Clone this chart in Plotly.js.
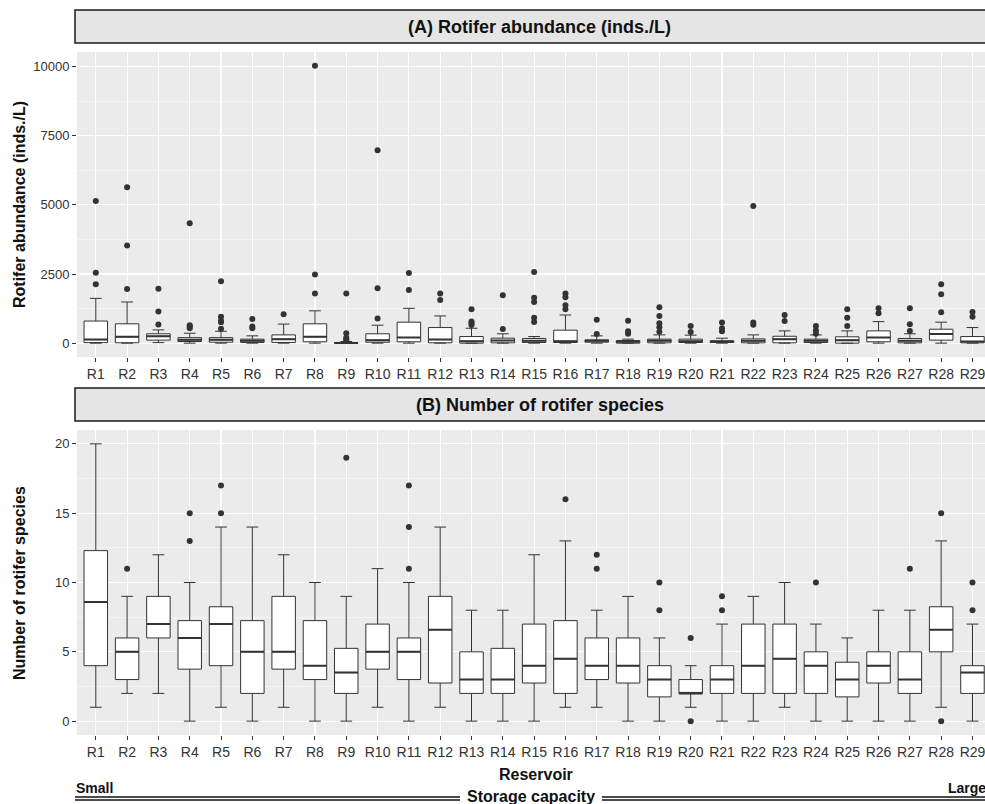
<!DOCTYPE html>
<html>
<head>
<meta charset="utf-8">
<script src="https://cdn.plot.ly/plotly-3.0.1.min.js"></script>
<style>html,body{margin:0;padding:0;overflow:hidden;background:#fff}#chart{width:985px;height:804px}</style>
</head>
<body>
<div id="chart"></div>
<script>
// ---- data ----
const reservoirs = ["R1","R2","R3","R4","R5","R6","R7","R8","R9","R10","R11","R12","R13","R14","R15","R16","R17","R18","R19","R20","R21","R22","R23","R24","R25","R26","R27","R28","R29"];

// (A) Rotifer abundance (inds./L)
const abLower  = [0,0,20,0,0,0,0,0,0,0,0,0,0,0,0,0,0,0,0,0,0,0,0,0,0,0,0,0,0];
const abQ1     = [20,15,110,60,35,25,25,50,0,35,50,12,0,12,25,25,35,0,12,25,25,12,12,25,0,50,12,110,12];
const abMedian = [130,230,250,120,120,85,145,230,5,110,205,130,70,95,85,70,85,50,85,70,60,85,145,85,110,205,85,335,60];
const abQ3     = [800,700,340,200,200,145,300,700,25,340,760,565,240,180,170,470,120,95,145,145,85,155,250,145,230,445,170,505,240];
const abUpper  = [1620,1490,480,360,430,265,690,1170,60,650,1260,985,540,340,240,1020,265,145,300,290,180,300,445,300,445,780,340,760,565];
const abOutliers = [
  [2130,2550,5140],[1960,3530,5640],[675,1145,1964],[540,600,650,4340],[520,760,810,960,2240],
  [540,600,870],[1050],[1800,2480,10030],[100,150,200,360,1800],[890,1990,6980],
  [1925,2540],[1565,1800],[660,720,780,1230],[515,1735],[765,915,1490,1640,2575],
  [1230,1370,1660,1800],[335,845],[340,430,810],[410,580,720,985,1300],[405,625],
  [435,540,745],[665,745,4965],[800,1015],[340,460,625],[620,920,1230],
  [1085,1265],[440,685,1260],[1115,1765,2130],[960,1125]
];

// (B) Number of rotifer species
const spLower  = [1,2,2,0,1,0,1,0,0,1,0,1,0,0,0,1,1,0,0,1,0,0,1,0,0,0,0,1,0];
const spQ1     = [4,3,6,3.75,4,2,3.75,3,2,3.75,3,2.75,2,2,2.75,2,3,2.75,1.75,2,2,2,2,2,1.75,2.75,2,5,2];
const spMedian = [8.6,5,7,6,7,5,5,4,3.5,5,5,6.6,3,3,4,4.5,4,4,3,2,3,4,4.5,4,3,4,3,6.6,3.5];
const spQ3     = [12.3,6,9,7.25,8.25,7.25,9,7.25,5.25,7,6,9,5,5.25,7,7.25,6,6,4,3,4,7,7,5,4.25,5,5,8.25,4];
const spUpper  = [20,9,12,10,14,14,12,10,9,11,10,14,8,8,12,13,8,9,6,4,7,9,10,7,6,8,8,13,7];
const spOutliers = [
  [],[11],[],[13,15],[15,17],[],[],[],[19],[],
  [11,14,17],[],[],[],[],[16],[11,12],[],[8,10],[0,6],
  [8,9],[],[],[10],[],[],[11],[0,15],[8,10]
];

const panelTitles = ["(A) Rotifer abundance (inds./L)", "(B) Number of rotifer species"];
const yTitles = ["Rotifer abundance (inds./L)", "Number of rotifer species"];
const xTitle = "Reservoir";
const bottomLabels = {left: "Small", middle: "Storage capacity", right: "Large"};

// ---- geometry helpers (layout only) ----
const W = 985, H = 804;
const M = {l: 77, r: 0, t: 52, b: 69};
const PW = W - M.l - M.r, PH = H - M.t - M.b;
const px = x => (x - M.l) / PW;
const py = y => 1 - (y - M.t) / PH;

const FONT = "Liberation Sans, Arial, Helvetica, sans-serif";
const boxLine = "#333333";

function flattenOut(outs) {
  const xs = [], ys = [];
  outs.forEach((arr, i) => arr.forEach(v => { xs.push(reservoirs[i]); ys.push(v); }));
  return {xs, ys};
}

function panelTraces(lower, q1, med, q3, upper, outs, xa, ya) {
  const o = flattenOut(outs);
  return [
    {type: "box", x: reservoirs, q1: q1, median: med, q3: q3, lowerfence: lower, upperfence: upper,
     xaxis: xa, yaxis: ya, width: 0.75, fillcolor: "#ffffff", line: {color: boxLine, width: 1},
     boxpoints: false, hoverinfo: "skip", showlegend: false},
    {type: "box", x: reservoirs, q1: med, median: med, q3: med, lowerfence: med, upperfence: med,
     xaxis: xa, yaxis: ya, width: 0.75, fillcolor: "rgba(0,0,0,0)", line: {color: boxLine, width: 2},
     boxpoints: false, hoverinfo: "skip", showlegend: false},
    {type: "scatter", mode: "markers", x: o.xs, y: o.ys, xaxis: xa, yaxis: ya,
     marker: {color: "#333333", size: 6}, hoverinfo: "skip", showlegend: false}
  ];
}

const data = [
  ...panelTraces(abLower, abQ1, abMedian, abQ3, abUpper, abOutliers, "x", "y"),
  ...panelTraces(spLower, spQ1, spMedian, spQ3, spUpper, spOutliers, "x2", "y2")
];

const xBase = {
  type: "category", categoryorder: "array", categoryarray: reservoirs,
  range: [-0.6, 28.4], showgrid: true, gridcolor: "#ffffff", gridwidth: 1.1,
  ticks: "outside", ticklen: 4, tickwidth: 1, tickcolor: "#333333",
  tickfont: {family: FONT, size: 14, color: "#333333"}, zeroline: false, showline: false,
  fixedrange: true
};
const yBase = {
  showgrid: true, gridcolor: "#ffffff", gridwidth: 1.1, zeroline: false, showline: false,
  ticks: "outside", ticklen: 4, tickwidth: 1, tickcolor: "#333333", tickformat: "d",
  tickfont: {family: FONT, size: 13, color: "#333333"}, fixedrange: true
};

const domA = [py(357), py(52)];
const domB = [py(735), py(430)];

const line = (x0, x1, y) => ({type: "line", xref: "paper", yref: "paper", x0: px(x0), x1: px(x1),
  y0: py(y), y1: py(y), line: {color: "#111", width: 1.6}});

const layout = {
  width: W, height: H,
  margin: M,
  paper_bgcolor: "#ffffff", plot_bgcolor: "#ebebeb",
  showlegend: false, boxmode: "overlay",
  xaxis:  Object.assign({}, xBase, {domain: [0, 1], anchor: "y"}),
  xaxis2: Object.assign({}, xBase, {domain: [0, 1], anchor: "y2"}),
  yaxis:  Object.assign({}, yBase, {domain: domA, anchor: "x", range: [-500, 10530], tick0: 0, dtick: 2500,
           minor: {showgrid: true, tick0: 0, dtick: 1250, gridcolor: "#ffffff", gridwidth: 0.5}}),
  yaxis2: Object.assign({}, yBase, {domain: domB, anchor: "x2", range: [-1, 21], tick0: 0, dtick: 5,
           minor: {showgrid: true, tick0: 0, dtick: 2.5, gridcolor: "#ffffff", gridwidth: 0.5}}),
  shapes: [
    {type: "rect", xref: "paper", yref: "paper", x0: px(75), x1: px(1000), y0: py(43), y1: py(10),
     fillcolor: "#e5e5e5", line: {color: "#1a1a1a", width: 1.5}},
    {type: "rect", xref: "paper", yref: "paper", x0: px(75), x1: px(1000), y0: py(421), y1: py(388),
     fillcolor: "#e5e5e5", line: {color: "#1a1a1a", width: 1.5}},
    line(75, 460, 797), line(75, 460, 800), line(602, 990, 797), line(602, 990, 800)
  ],
  annotations: [
    {text: "<b>" + panelTitles[0] + "</b>", xref: "paper", yref: "paper", x: px(539), y: py(27),
     xanchor: "center", yanchor: "middle", showarrow: false, font: {family: FONT, size: 18, color: "#111"}},
    {text: "<b>" + panelTitles[1] + "</b>", xref: "paper", yref: "paper", x: px(540), y: py(405),
     xanchor: "center", yanchor: "middle", showarrow: false, font: {family: FONT, size: 18, color: "#111"}},
    {text: "<b>" + yTitles[0] + "</b>", xref: "paper", yref: "paper", x: px(19), y: py(205), textangle: -90,
     xanchor: "center", yanchor: "middle", showarrow: false, font: {family: FONT, size: 16, color: "#111"}},
    {text: "<b>" + yTitles[1] + "</b>", xref: "paper", yref: "paper", x: px(19), y: py(583), textangle: -90,
     xanchor: "center", yanchor: "middle", showarrow: false, font: {family: FONT, size: 16, color: "#111"}},
    {text: "<b>" + xTitle + "</b>", xref: "paper", yref: "paper", x: px(536), y: py(774),
     xanchor: "center", yanchor: "middle", showarrow: false, font: {family: FONT, size: 16, color: "#111"}},
    {text: "<b>" + bottomLabels.left + "</b>", xref: "paper", yref: "paper", x: px(74), y: py(788),
     xanchor: "left", yanchor: "middle", showarrow: false, font: {family: FONT, size: 14, color: "#111"}},
    {text: "<b>" + bottomLabels.right + "</b>", xref: "paper", yref: "paper", x: px(988), y: py(788),
     xanchor: "right", yanchor: "middle", showarrow: false, font: {family: FONT, size: 14, color: "#111"}},
    {text: "<b>" + bottomLabels.middle + "</b>", xref: "paper", yref: "paper", x: px(531), y: py(796),
     xanchor: "center", yanchor: "middle", showarrow: false, font: {family: FONT, size: 16, color: "#111"}}
  ]
};

Plotly.newPlot("chart", data, layout, {displayModeBar: false, staticPlot: true});
</script>
</body>
</html>
